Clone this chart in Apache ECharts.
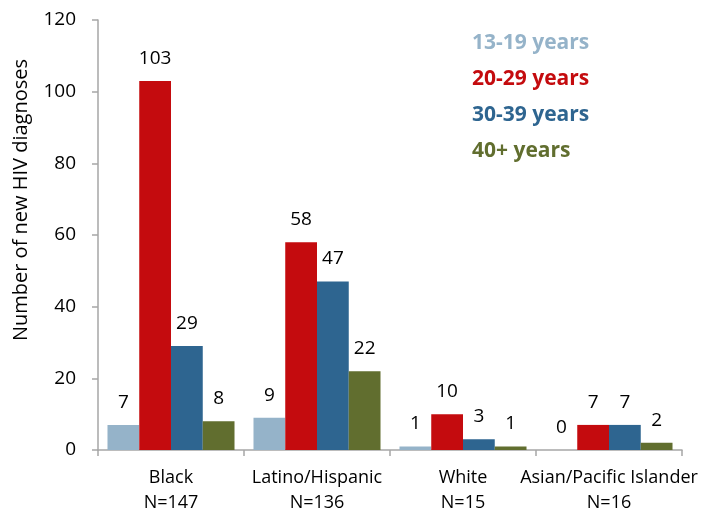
<!DOCTYPE html>
<html>
<head>
<meta charset="utf-8">
<script src="https://cdn.jsdelivr.net/npm/echarts@6/dist/echarts.min.js"></script>
<style>
  html, body { margin: 0; padding: 0; background: #fff; }
  #chart { width: 716px; height: 515px; }
</style>
</head>
<body>
<div id="chart"></div>
<script>
// Groups along the x axis (two-line labels: group name and total N)
const categories = ['Black\nN=147', 'Latino/Hispanic\nN=136', 'White\nN=15', 'Asian/Pacific Islander\nN=16'];

// New HIV diagnoses per age group
const age13to19 = [7, 9, 1, 0];
const age20to29 = [103, 58, 10, 7];
const age30to39 = [29, 47, 3, 7];
const age40plus = [8, 22, 1, 2];

const seriesNames = ['13-19 years', '20-29 years', '30-39 years', '40+ years'];
const seriesColors = ['#95b3c9', '#c40b0e', '#2e6590', '#616e2f'];
const seriesData = [age13to19, age20to29, age30to39, age40plus];

const yTitle = 'Number of new HIV diagnoses';

const font = 'Open Sans, Liberation Sans, sans-serif';
const axisGray = '#a6a6a6';

const chart = echarts.init(document.getElementById('chart'));
chart.setOption({
  animation: false,
  backgroundColor: '#fff',
  grid: { left: 98, right: 34, top: 20, bottom: 65, containLabel: false },
  graphic: [{
    type: 'text',
    x: 21,
    y: 200,
    rotation: Math.PI / 2,
    style: {
      text: yTitle,
      fill: '#000',
      fontSize: 20,
      fontFamily: font,
      align: 'center',
      verticalAlign: 'middle'
    }
  }],
  legend: {
    orient: 'vertical',
    left: 462,
    top: 28,
    itemGap: 15,
    itemWidth: 0,
    itemHeight: 0,
    icon: 'none',
    data: seriesNames.map((n, i) => ({
      name: n,
      textStyle: { color: seriesColors[i], fontSize: 21, fontWeight: 'bold', fontFamily: font }
    }))
  },
  xAxis: {
    type: 'category',
    data: categories,
    axisLine: { lineStyle: { color: axisGray, width: 1.5 } },
    axisTick: { show: true, length: 6, lineStyle: { color: axisGray, width: 1.5 } },
    axisLabel: { color: '#000', fontSize: 18, fontFamily: font, lineHeight: 25, margin: 15, interval: 0 }
  },
  yAxis: {
    type: 'value',
    min: 0,
    max: 120,
    interval: 20,
    splitLine: { show: false },
    axisLine: { show: true, lineStyle: { color: axisGray, width: 1.5 } },
    axisTick: { show: true, length: 6, lineStyle: { color: axisGray, width: 1.5 } },
    axisLabel: { color: '#000', fontSize: 19, fontFamily: font, margin: 22 }
  },
  series: seriesNames.map((n, i) => ({
    name: n,
    type: 'bar',
    data: seriesData[i],
    barGap: '0%',
    barCategoryGap: '13%',
    itemStyle: { color: seriesColors[i] },
    label: {
      show: true,
      position: 'top',
      distance: 13,
      color: '#000',
      fontSize: 19,
      fontFamily: font
    }
  }))
});
</script>
</body>
</html>
